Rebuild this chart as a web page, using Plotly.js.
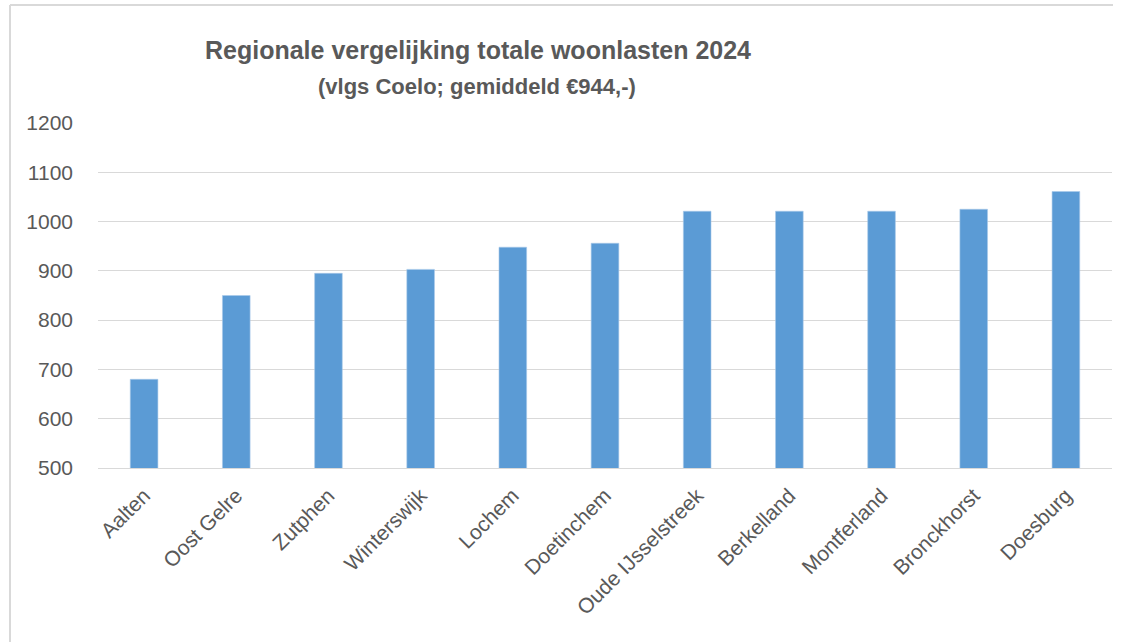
<!DOCTYPE html>
<html>
<head>
<meta charset="utf-8">
<script src="https://cdn.plot.ly/plotly-3.0.1.min.js"></script>
<style>html,body{margin:0;padding:0;background:#fff;}#chart{width:1128px;height:642px;}</style>
</head>
<body>
<div id="chart"></div>
<script>
const gemeenten = ["Aalten","Oost Gelre","Zutphen","Winterswijk","Lochem","Doetinchem","Oude IJsselstreek","Berkelland","Montferland","Bronckhorst","Doesburg"];
const woonlasten = [680, 850, 895, 903, 948, 956, 1021, 1021, 1021, 1025, 1061];
const yTicks = [500, 600, 700, 800, 900, 1000, 1100, 1200];
const titleLine1 = "Regionale vergelijking totale woonlasten 2024";
const titleLine2 = "(vlgs Coelo; gemiddeld €944,-)";

const W = 1128, H = 642;
const ML = 98, MR = 16, MT = 123, MB = 174;
const PW = W - ML - MR, PH = H - MT - MB;
const px = v => (v - ML) / PW;          // pixel x -> paper x
const py = v => (H - MB - v) / PH;      // pixel y -> paper y

const data = [{
  type: "bar",
  x: gemeenten,
  y: woonlasten,
  base: 0,
  marker: {color: "#5B9BD5", line: {color: "#a9c9ea", width: 0.6}},
  hoverinfo: "x+y"
}];

const layout = {
  width: W, height: H,
  paper_bgcolor: "#ffffff",
  plot_bgcolor: "#ffffff",
  margin: {l: ML, r: MR, t: MT, b: MB},
  bargap: 0.70,
  showlegend: false,
  font: {family: "Liberation Sans, Arial, sans-serif", color: "#595959"},
  annotations: [
    {text: "<b>" + titleLine1 + "</b>", xref: "paper", yref: "paper",
     x: px(478), y: py(50), xanchor: "center", yanchor: "middle", showarrow: false,
     font: {family: "Liberation Sans, Arial, sans-serif", size: 25, color: "#595959"}},
    {text: "<b>" + titleLine2 + "</b>", xref: "paper", yref: "paper",
     x: px(477), y: py(87), xanchor: "center", yanchor: "middle", showarrow: false,
     font: {family: "Liberation Sans, Arial, sans-serif", size: 22, color: "#595959"}}
  ],
  xaxis: {
    type: "category",
    tickangle: -45,
    tickfont: {size: 21, color: "#595959"},
    showgrid: false,
    showline: true, linecolor: "#d9d9d9", linewidth: 1,
    ticks: "",
    ticklabelstandoff: 6
  },
  yaxis: {
    range: [500, 1200],
    tickvals: yTicks,
    ticktext: yTicks.map(String),
    tickfont: {size: 21, color: "#595959"},
    showgrid: true, gridcolor: "#d9d9d9", gridwidth: 1,
    zeroline: false,
    showline: false,
    ticks: "",
    ticklabelstandoff: 24
  },
  shapes: [
    {type: "line", xref: "paper", yref: "paper",
     x0: px(10), x1: px(1113), y0: py(5), y1: py(5),
     line: {color: "#d9d9d9", width: 2}},
    {type: "line", xref: "paper", yref: "paper",
     x0: px(10), x1: px(10), y0: py(5), y1: py(645),
     line: {color: "#d9d9d9", width: 2}}
  ]
};

Plotly.newPlot("chart", data, layout, {displayModeBar: false, staticPlot: true});
</script>
</body>
</html>
